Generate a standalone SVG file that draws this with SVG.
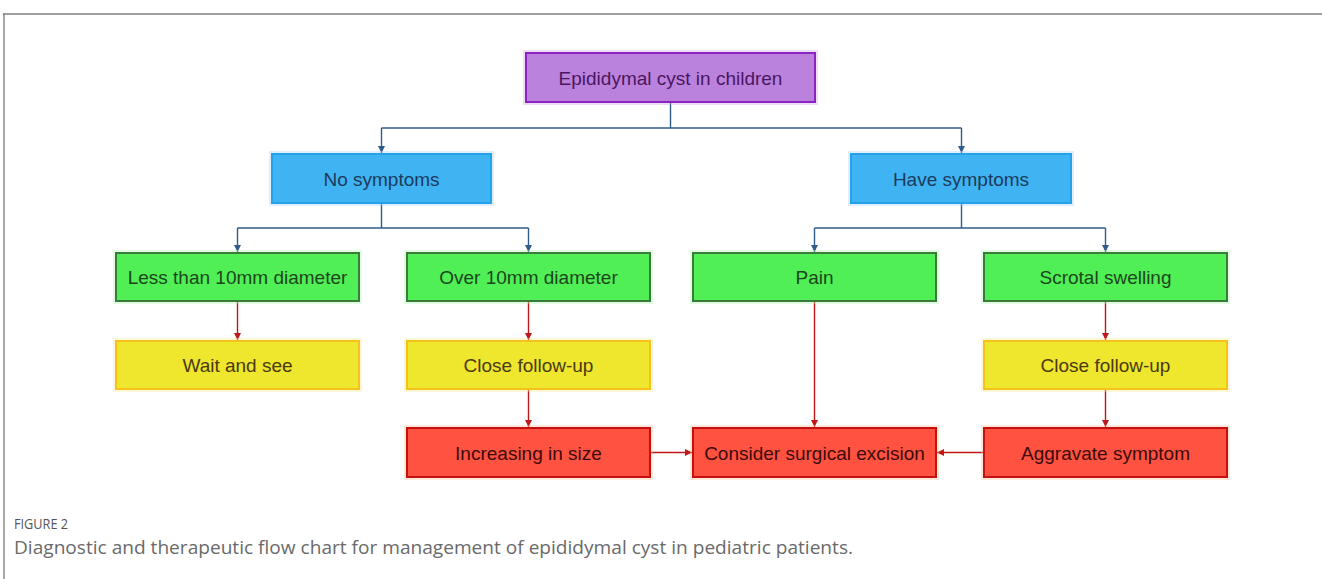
<svg xmlns="http://www.w3.org/2000/svg" width="1322" height="579" viewBox="0 0 1322 579">
<defs>
<style>
.lbl{font-family:"Liberation Sans",Arial,sans-serif;font-size:19px;text-anchor:middle;dominant-baseline:central}
.glow{fill:none;stroke-width:6;stroke-opacity:0.35}
.purple .box{fill:#bb82dd;stroke:#8c22c4;stroke-width:2}
.purple .glow{stroke:#c8a0e8}
.purple text{fill:#4a1660}
.blue .box{fill:#40b4f2;stroke:#22a2ea;stroke-width:2}
.blue .glow{stroke:#a8c8f8}
.blue text{fill:#1c3a5c}
.green .box{fill:#50ef55;stroke:#3c7a3c;stroke-width:2}
.green .glow{stroke:#a8f8a8}
.green text{fill:#1c461c}
.yellow .box{fill:#efe62e;stroke:#f5c21c;stroke-width:2}
.yellow .glow{stroke:#f8e890}
.yellow text{fill:#4a3a0e}
.red .box{fill:#ff5240;stroke:#c31010;stroke-width:2}
.red .glow{stroke:#fcc090}
.red text{fill:#3c0a0a}
.cb{fill:none;stroke:#2f5c8a;stroke-width:1.4}
.cr{fill:none;stroke:#c01818;stroke-width:1.4}
.cap{font-family:"Open Sans","Liberation Sans",sans-serif}
</style>
<marker id="ab" markerWidth="8" markerHeight="8" refX="7" refY="4" orient="auto" markerUnits="userSpaceOnUse"><path d="M0,0.5 L7,4 L0,7.5 z" fill="#2f5c8a"/></marker>
<marker id="ar" markerWidth="8" markerHeight="8" refX="7" refY="4" orient="auto" markerUnits="userSpaceOnUse"><path d="M0,0.5 L7,4 L0,7.5 z" fill="#c01818"/></marker>
</defs>
<rect width="1322" height="579" fill="#ffffff"/>
<line x1="3" y1="14" x2="1322" y2="14" stroke="#a0a0a0" stroke-width="2"/>
<line x1="4" y1="14" x2="4" y2="579" stroke="#555555" stroke-width="1"/>

<g id="connectors">
<path class="cb" d="M670.5,102 V128"/>
<path class="cb" d="M381.5,128 H961.5"/>
<path class="cb" d="M381.5,128 V153" marker-end="url(#ab)"/>
<path class="cb" d="M961.5,128 V153" marker-end="url(#ab)"/>
<path class="cb" d="M381.5,203 V228 M237.5,228 H528.5"/>
<path class="cb" d="M237.5,228 V252" marker-end="url(#ab)"/>
<path class="cb" d="M528.5,228 V252" marker-end="url(#ab)"/>
<path class="cb" d="M961.5,203 V228 M814.5,228 H1105.5"/>
<path class="cb" d="M814.5,228 V252" marker-end="url(#ab)"/>
<path class="cb" d="M1105.5,228 V252" marker-end="url(#ab)"/>
<path class="cr" d="M237.5,301 V340" marker-end="url(#ar)"/>
<path class="cr" d="M528.5,301 V340" marker-end="url(#ar)"/>
<path class="cr" d="M528.5,389 V427" marker-end="url(#ar)"/>
<path class="cr" d="M814.5,301 V427" marker-end="url(#ar)"/>
<path class="cr" d="M1105.5,301 V340" marker-end="url(#ar)"/>
<path class="cr" d="M1105.5,389 V427" marker-end="url(#ar)"/>
<path class="cr" d="M650,452.5 H692" marker-end="url(#ar)"/>
<path class="cr" d="M984,452.5 H937" marker-end="url(#ar)"/>
</g>

<g id="n-top" class="purple"><rect class="glow" x="526" y="53" width="289" height="49"/><rect class="box" x="526" y="53" width="289" height="49"/><text class="lbl" x="670.5" y="78">Epididymal cyst in children</text></g>
<g id="n-nosym" class="blue"><rect class="glow" x="272" y="154" width="219" height="49"/><rect class="box" x="272" y="154" width="219" height="49"/><text class="lbl" x="381.5" y="179">No symptoms</text></g>
<g id="n-havesym" class="blue"><rect class="glow" x="851" y="154" width="220" height="49"/><rect class="box" x="851" y="154" width="220" height="49"/><text class="lbl" x="961" y="179">Have symptoms</text></g>
<g id="n-less" class="green"><rect class="glow" x="116" y="253" width="243" height="48"/><rect class="box" x="116" y="253" width="243" height="48"/><text class="lbl" x="237.5" y="277">Less than 10mm diameter</text></g>
<g id="n-over" class="green"><rect class="glow" x="407" y="253" width="243" height="48"/><rect class="box" x="407" y="253" width="243" height="48"/><text class="lbl" x="528.5" y="277">Over 10mm diameter</text></g>
<g id="n-pain" class="green"><rect class="glow" x="693" y="253" width="243" height="48"/><rect class="box" x="693" y="253" width="243" height="48"/><text class="lbl" x="814.5" y="277">Pain</text></g>
<g id="n-scrotal" class="green"><rect class="glow" x="984" y="253" width="243" height="48"/><rect class="box" x="984" y="253" width="243" height="48"/><text class="lbl" x="1105.5" y="277">Scrotal swelling</text></g>
<g id="n-wait" class="yellow"><rect class="glow" x="116" y="341" width="243" height="48"/><rect class="box" x="116" y="341" width="243" height="48"/><text class="lbl" x="237.5" y="365">Wait and see</text></g>
<g id="n-follow1" class="yellow"><rect class="glow" x="407" y="341" width="243" height="48"/><rect class="box" x="407" y="341" width="243" height="48"/><text class="lbl" x="528.5" y="365">Close follow-up</text></g>
<g id="n-follow2" class="yellow"><rect class="glow" x="984" y="341" width="243" height="48"/><rect class="box" x="984" y="341" width="243" height="48"/><text class="lbl" x="1105.5" y="365">Close follow-up</text></g>
<g id="n-increase" class="red"><rect class="glow" x="407" y="428" width="243" height="49"/><rect class="box" x="407" y="428" width="243" height="49"/><text class="lbl" x="528.5" y="453">Increasing in size</text></g>
<g id="n-surgery" class="red"><rect class="glow" x="693" y="428" width="243" height="49"/><rect class="box" x="693" y="428" width="243" height="49"/><text class="lbl" x="814.5" y="453">Consider surgical excision</text></g>
<g id="n-aggravate" class="red"><rect class="glow" x="984" y="428" width="243" height="49"/><rect class="box" x="984" y="428" width="243" height="49"/><text class="lbl" x="1105.5" y="453">Aggravate symptom</text></g>

<text class="cap" x="14" y="528.5" font-size="14" fill="#555555" textLength="54" lengthAdjust="spacingAndGlyphs">FIGURE 2</text>
<text class="cap" x="14" y="554" font-size="18" fill="#6a6a6a" textLength="839" lengthAdjust="spacingAndGlyphs">Diagnostic and therapeutic flow chart for management of epididymal cyst in pediatric patients.</text>
</svg>
